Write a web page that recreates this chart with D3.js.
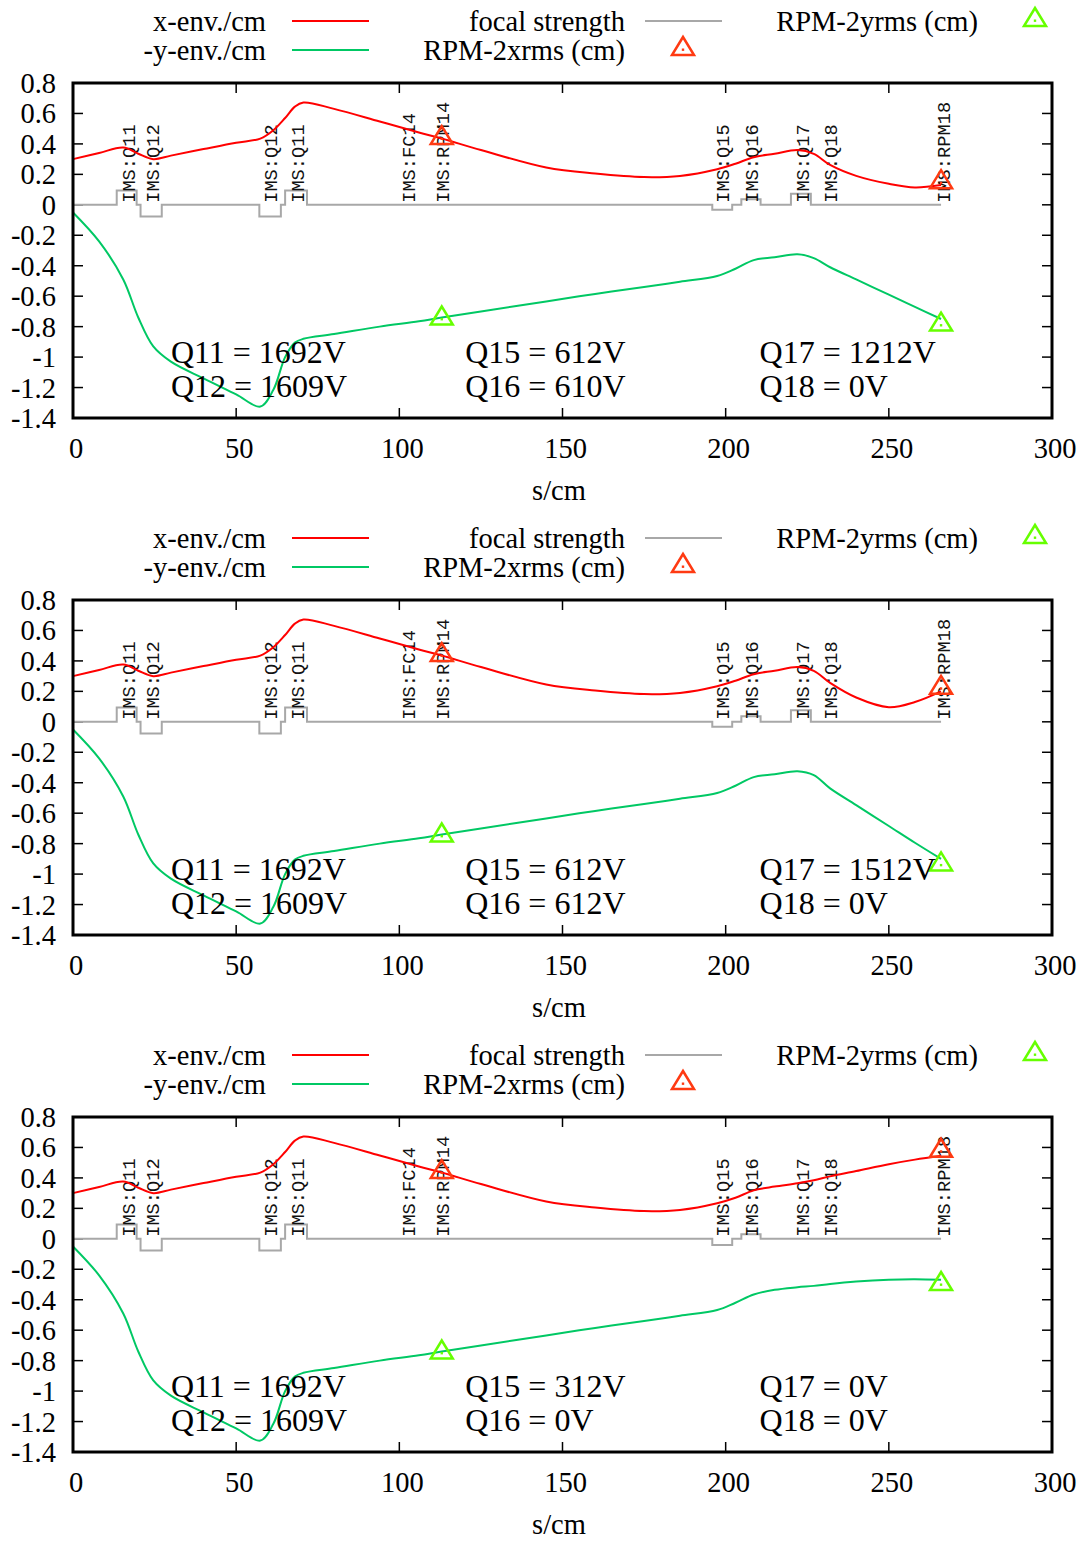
<!DOCTYPE html>
<html>
<head>
<meta charset="utf-8">
<script src="https://cdn.jsdelivr.net/npm/d3@7"></script>
<style>
  body { margin: 0; background: #fff; }
  text { font-family: "Liberation Serif", "DejaVu Serif", serif; }
  .mono { font-family: "Liberation Mono", "DejaVu Sans Mono", monospace; }
</style>
</head>
<body>
<div id="chart"></div>
<script>
// s positions (cm) of the envelope knots, shared by all three panels
var envS = [0, 8, 15.4, 20, 24.6, 30, 40, 50, 57.4, 61.4, 65, 68, 70.6, 80, 94, 106, 113, 125, 145, 160, 175, 186, 197.4, 203, 208.6, 215, 222, 227, 232, 240, 250, 258, 266];

// x envelope (cm)
var xEnv1 = [0.30, 0.34, 0.376, 0.335, 0.30, 0.323, 0.366, 0.408, 0.435, 0.49, 0.57, 0.645, 0.672, 0.63, 0.547, 0.475, 0.435, 0.36, 0.245, 0.205, 0.182, 0.19, 0.234, 0.27, 0.313, 0.335, 0.36, 0.335, 0.262, 0.19, 0.138, 0.114, 0.13];
var xEnv2 = [0.30, 0.34, 0.376, 0.335, 0.30, 0.323, 0.366, 0.408, 0.435, 0.49, 0.57, 0.645, 0.672, 0.63, 0.547, 0.475, 0.435, 0.36, 0.245, 0.205, 0.182, 0.19, 0.234, 0.27, 0.313, 0.335, 0.36, 0.335, 0.256, 0.16, 0.096, 0.13, 0.20];
var xEnv3 = [0.30, 0.34, 0.376, 0.335, 0.30, 0.323, 0.366, 0.408, 0.435, 0.49, 0.57, 0.645, 0.672, 0.63, 0.547, 0.475, 0.435, 0.36, 0.245, 0.205, 0.182, 0.19, 0.234, 0.27, 0.318, 0.343, 0.365, 0.385, 0.41, 0.445, 0.49, 0.52, 0.545];

// -y envelope (cm)
var yEnv1 = [-0.05, -0.24, -0.49, -0.74, -0.93, -1.03, -1.14, -1.245, -1.325, -1.215, -1.0, -0.905, -0.88, -0.849, -0.80, -0.765, -0.74, -0.70, -0.635, -0.585, -0.54, -0.505, -0.468, -0.42, -0.363, -0.345, -0.325, -0.35, -0.41, -0.49, -0.59, -0.67, -0.75];
var yEnv2 = [-0.05, -0.24, -0.49, -0.74, -0.93, -1.03, -1.14, -1.245, -1.325, -1.215, -1.0, -0.905, -0.88, -0.849, -0.80, -0.765, -0.74, -0.70, -0.635, -0.585, -0.54, -0.505, -0.468, -0.42, -0.363, -0.345, -0.325, -0.35, -0.437, -0.547, -0.684, -0.794, -0.90];
var yEnv3 = [-0.05, -0.24, -0.49, -0.74, -0.93, -1.03, -1.14, -1.245, -1.325, -1.215, -1.0, -0.905, -0.88, -0.849, -0.80, -0.765, -0.74, -0.70, -0.635, -0.585, -0.54, -0.505, -0.468, -0.42, -0.366, -0.335, -0.318, -0.309, -0.296, -0.28, -0.268, -0.265, -0.269];

// RPM measurements
var rpmS = [113, 266];
var rpmX1 = [0.445, 0.155], rpmY1 = [-0.74, -0.78];
var rpmX2 = [0.445, 0.23],  rpmY2 = [-0.74, -0.93];
var rpmX3 = [0.445, 0.585], rpmY3 = [-0.74, -0.29];

// quadrupoles: start / end (cm) and plotted focal strength per panel
var quadStart = [13.4, 20.7, 57.1, 65.0, 195.9, 204.8, 220.0, 231.0];
var quadEnd   = [19.5, 27.2, 63.7, 71.7, 202.0, 210.7, 226.1, 237.0];
var focal1 = [0.094, -0.077, -0.077, 0.094, -0.033, 0.037, 0.072, 0];
var focal2 = [0.094, -0.077, -0.077, 0.094, -0.033, 0.037, 0.076, 0];
var focal3 = [0.094, -0.077, -0.077, 0.094, -0.040, 0.030, 0, 0];
var focalEnd = 266;

// element labels
var elemNames = ["IMS:Q11", "IMS:Q12", "IMS:Q12", "IMS:Q11", "IMS:FC14", "IMS:RPM14", "IMS:Q15", "IMS:Q16", "IMS:Q17", "IMS:Q18", "IMS:RPM18"];
var elemS = [16.9, 24.5, 60.4, 68.7, 102.8, 113.2, 199.0, 208.0, 223.6, 232.2, 266.6];

// quad voltage annotations
var volts1 = ["Q11 = 1692V", "Q12 = 1609V", "Q15 = 612V", "Q16 = 610V", "Q17 = 1212V", "Q18 = 0V"];
var volts2 = ["Q11 = 1692V", "Q12 = 1609V", "Q15 = 612V", "Q16 = 612V", "Q17 = 1512V", "Q18 = 0V"];
var volts3 = ["Q11 = 1692V", "Q12 = 1609V", "Q15 = 312V", "Q16 = 0V", "Q17 = 0V", "Q18 = 0V"];

var xTicks = [0, 50, 100, 150, 200, 250, 300];
var yTicks = [0.8, 0.6, 0.4, 0.2, 0, -0.2, -0.4, -0.6, -0.8, -1, -1.2, -1.4];

var W = 1084, H = 1541, panelH = 517;
var pLeft = 73, pRight = 1052, pTop = 83, pBottom = 418;
var red = "#ff0000", green = "#00c864", grey = "#a8a8a8", triRed = "#ff3a12", triGreen = "#66ff00";
var fs = 28.5;

var svg = d3.select("#chart").append("svg")
    .attr("width", W)
    .attr("height", H)
    .style("background", "#fff");

var x = d3.scaleLinear().domain([0, 300]).range([pLeft, pRight]);
var y = d3.scaleLinear().domain([-1.4, 0.8]).range([pBottom, pTop]);

var line = d3.line()
    .x(function(d) { return x(d[0]); })
    .y(function(d) { return y(d[1]); })
    .curve(d3.curveCatmullRom.alpha(0.5));

var focalLine = d3.line()
    .x(function(d) { return x(d[0]); })
    .y(function(d) { return y(d[1]); });

function triangle(g, cx, cy, color){
    var t = g.append("g").attr("transform", "translate(" + cx + "," + cy + ")");
    t.append("path")
        .attr("d", "M0,-11 L11,7 L-11,7 Z")
        .attr("fill", "none")
        .attr("stroke", color)
        .attr("stroke-width", 2.5)
        .attr("stroke-linejoin", "miter");
    t.append("rect")
        .attr("x", -1.2).attr("y", 0.5)
        .attr("width", 2.4).attr("height", 2.4)
        .attr("fill", color);
}

function drawPanel(i, xEnv, yEnv, rpmX, rpmY, focal, volts){
    var g = svg.append("g").attr("transform", "translate(0," + i * panelH + ")");

    // legend
    var lg = g.append("g").attr("font-size", fs);
    lg.append("text").attr("x", 266).attr("y", 21).attr("dy", "0.35em").attr("text-anchor", "end").text("x-env./cm");
    lg.append("line").attr("x1", 292).attr("x2", 369).attr("y1", 21).attr("y2", 21).attr("stroke", red).attr("stroke-width", 2);
    lg.append("text").attr("x", 266).attr("y", 50).attr("dy", "0.35em").attr("text-anchor", "end").text("-y-env./cm");
    lg.append("line").attr("x1", 292).attr("x2", 369).attr("y1", 50).attr("y2", 50).attr("stroke", green).attr("stroke-width", 2);
    lg.append("text").attr("x", 625).attr("y", 21).attr("dy", "0.35em").attr("text-anchor", "end").text("focal strength");
    lg.append("line").attr("x1", 645).attr("x2", 722).attr("y1", 21).attr("y2", 21).attr("stroke", grey).attr("stroke-width", 2);
    lg.append("text").attr("x", 625).attr("y", 50).attr("dy", "0.35em").attr("text-anchor", "end").text("RPM-2xrms (cm)");
    triangle(lg, 683, 48, triRed);
    lg.append("text").attr("x", 978).attr("y", 21).attr("dy", "0.35em").attr("text-anchor", "end").text("RPM-2yrms (cm)");
    triangle(lg, 1035, 19, triGreen);

    // ticks (inward, mirrored)
    var tk = g.append("g").attr("stroke", "#000").attr("stroke-width", 1.5);
    yTicks.forEach(function(v){
        tk.append("line").attr("x1", pLeft).attr("x2", pLeft + 10).attr("y1", y(v)).attr("y2", y(v));
        tk.append("line").attr("x1", pRight - 10).attr("x2", pRight).attr("y1", y(v)).attr("y2", y(v));
    });
    xTicks.forEach(function(v){
        tk.append("line").attr("x1", x(v)).attr("x2", x(v)).attr("y1", pBottom).attr("y2", pBottom - 10);
        tk.append("line").attr("x1", x(v)).attr("x2", x(v)).attr("y1", pTop).attr("y2", pTop + 10);
    });

    // tick labels
    var tl = g.append("g").attr("font-size", fs);
    yTicks.forEach(function(v){
        tl.append("text").attr("x", 56).attr("y", y(v)).attr("dy", "0.35em")
            .attr("text-anchor", "end").text(String(v));
    });
    xTicks.forEach(function(v){
        tl.append("text").attr("x", x(v) + 3).attr("y", 458).attr("text-anchor", "middle").text(v);
    });
    tl.append("text").attr("x", 559).attr("y", 500).attr("text-anchor", "middle").text("s/cm");

    // focal strength step line
    var fpts = [[0, 0]];
    quadStart.forEach(function(s0, k){
        fpts.push([s0, 0], [s0, focal[k]], [quadEnd[k], focal[k]], [quadEnd[k], 0]);
    });
    fpts.push([focalEnd, 0]);
    g.append("path").attr("d", focalLine(fpts))
        .attr("fill", "none").attr("stroke", grey).attr("stroke-width", 2);

    // element labels
    elemNames.forEach(function(n, k){
        g.append("text").attr("class", "mono")
            .attr("transform", "translate(" + x(elemS[k]) + "," + (y(0) - 2) + ") rotate(-90)")
            .attr("dy", "0.35em")
            .attr("font-size", 18.7)
            .attr("fill", "#111")
            .text(n);
    });

    // envelopes
    g.append("path").datum(envS.map(function(s, k){ return [s, xEnv[k]]; }))
        .attr("d", line).attr("fill", "none").attr("stroke", red).attr("stroke-width", 2);
    g.append("path").datum(envS.map(function(s, k){ return [s, yEnv[k]]; }))
        .attr("d", line).attr("fill", "none").attr("stroke", green).attr("stroke-width", 2);

    // RPM markers
    rpmS.forEach(function(s, k){
        triangle(g, x(s), y(rpmX[k]), triRed);
        triangle(g, x(s), y(rpmY[k]), triGreen);
    });

    // voltage annotations
    var at = g.append("g").attr("font-size", 32);
    var colS = [30, 120.2, 210.4];
    volts.forEach(function(t, k){
        var c = Math.floor(k / 2), r = k % 2;
        at.append("text").attr("x", x(colS[c])).attr("y", y(r ? -1.19 : -0.965)).attr("dy", "0.35em").text(t);
    });

    // frame
    g.append("rect").attr("x", pLeft).attr("y", pTop)
        .attr("width", pRight - pLeft).attr("height", pBottom - pTop)
        .attr("fill", "none").attr("stroke", "#000").attr("stroke-width", 3);
}

drawPanel(0, xEnv1, yEnv1, rpmX1, rpmY1, focal1, volts1);
drawPanel(1, xEnv2, yEnv2, rpmX2, rpmY2, focal2, volts2);
drawPanel(2, xEnv3, yEnv3, rpmX3, rpmY3, focal3, volts3);
</script>
</body>
</html>
